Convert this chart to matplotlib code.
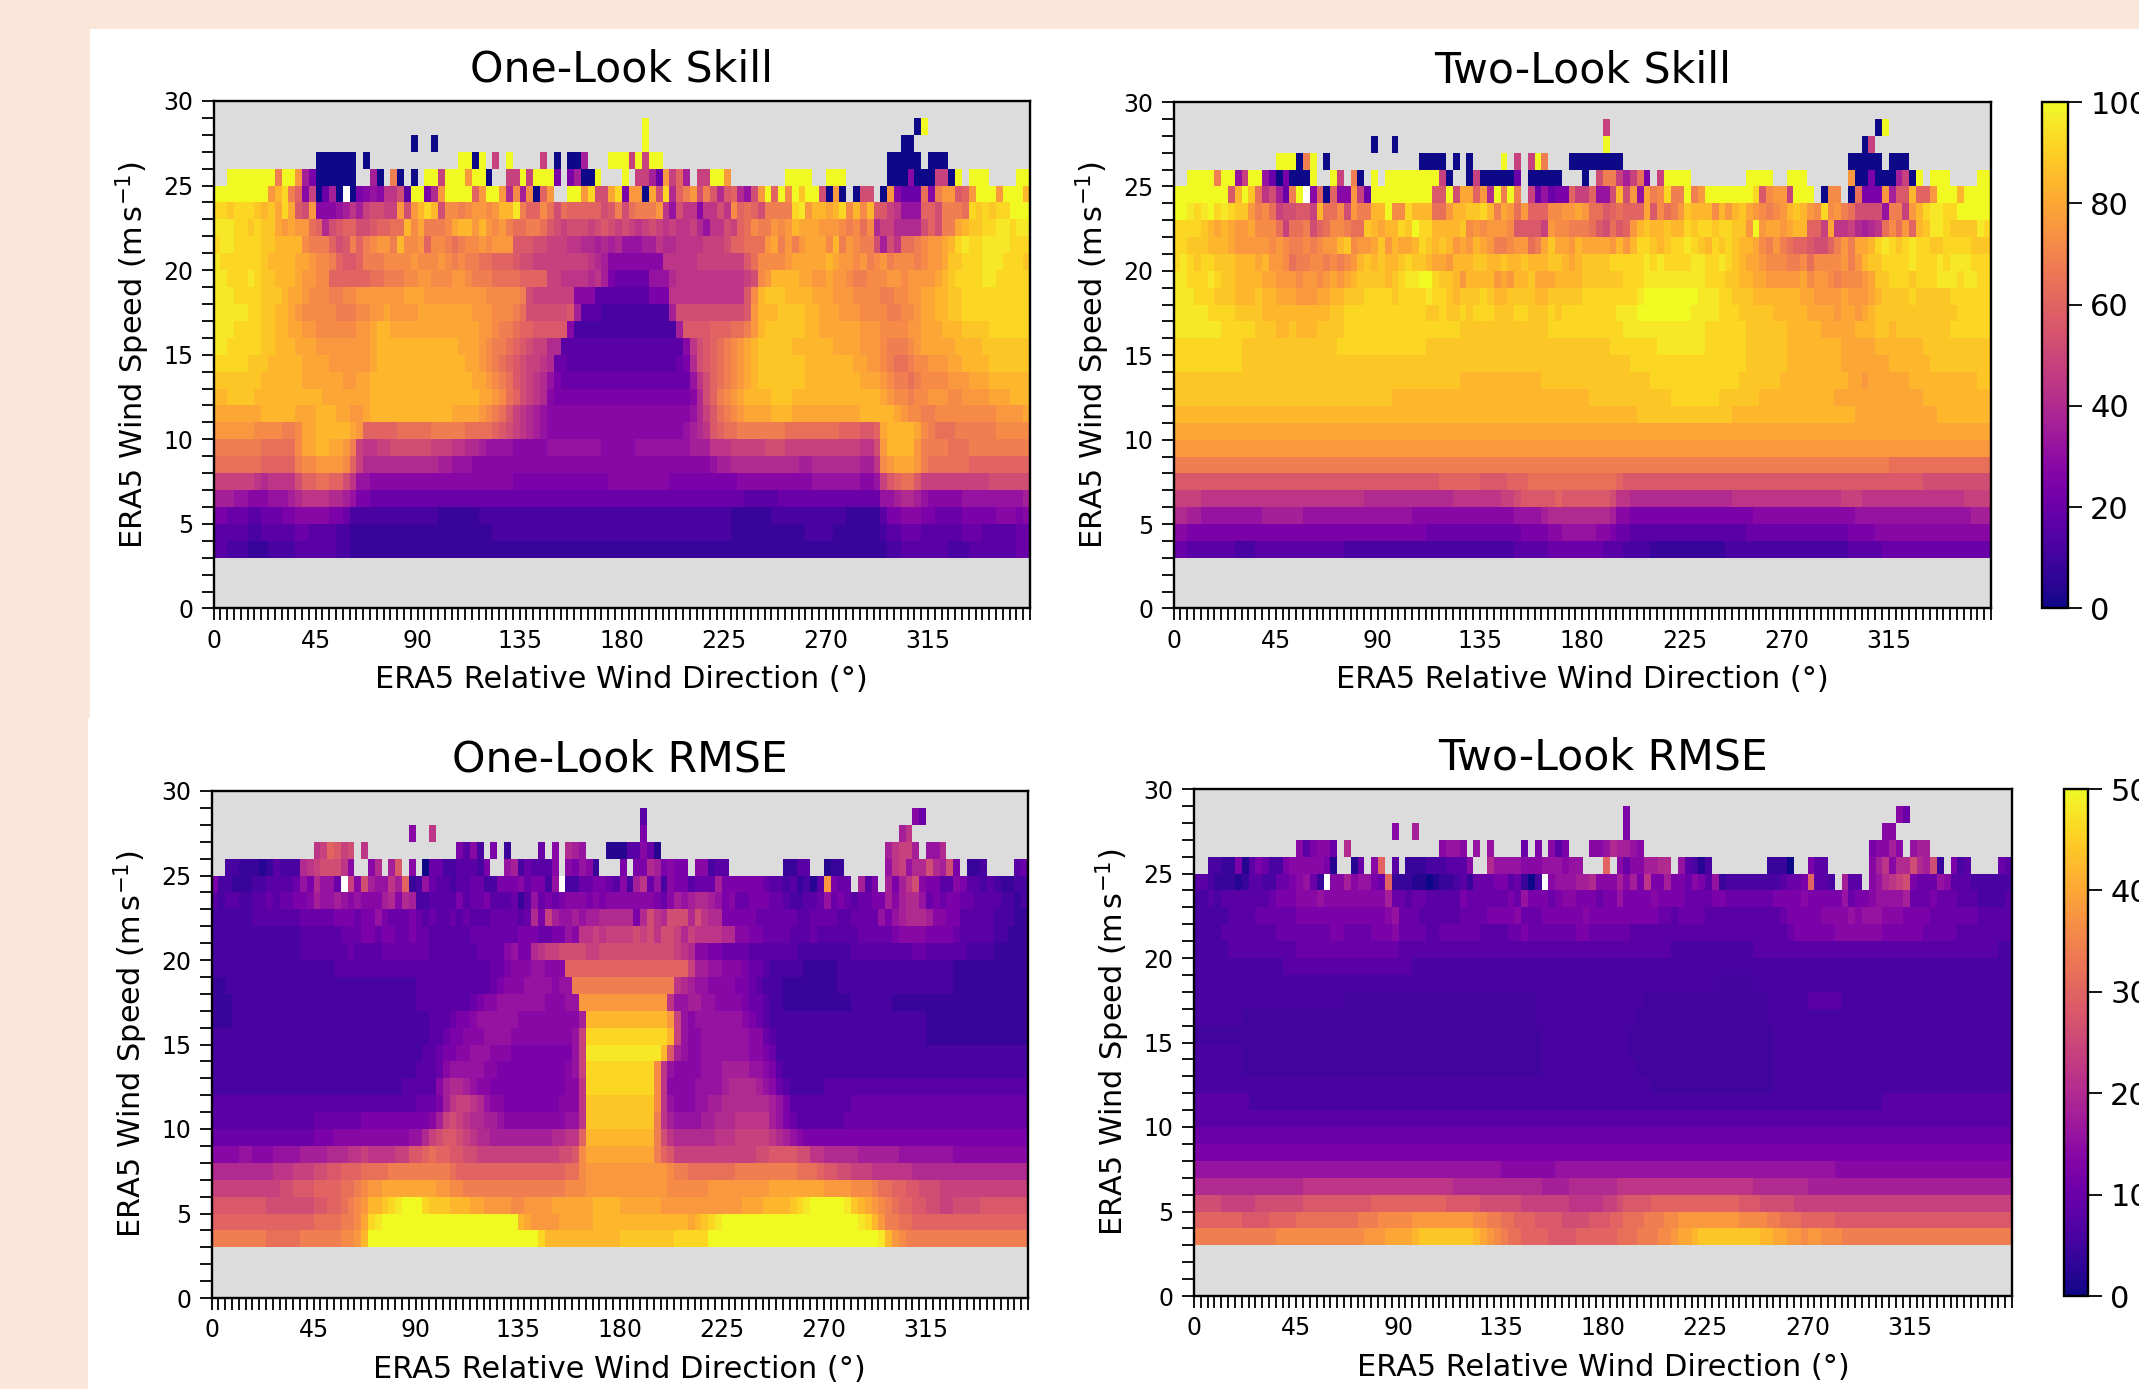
import matplotlib
matplotlib.use("Agg")
import matplotlib.pyplot as plt
from matplotlib.patches import Rectangle
import numpy as np

# cells, 3 deg x 1 m/s bins, rows from 28-29 m/s down to 3-4 m/s
# one letter per cell, A = 0 ... Z = top of colour scale, lower case = half a step up,
# . = no data, _ = white cell. groups of 15 cells = 45 deg
SKILL_ONE = [
"............... ............... ............... ............... ...Z........... ............... .............AZ ...............",
"............... ..............A ..A............ ............... ...Z........... ............... ...........AA.. ...............",
"............... AAAAAA.A....... ......ZZAZ.M.Z. ...M.A.AAJ...ZZ ZMZMZZ......... ............... .........AAAAA. AAA............",
"..ZZZZZZZRZZTJG AAAAAA..JA.RA.A .ZZMZZZTZZA..MM ZMZZZG.GJAAZ... Z.MMJFTMPJ.MMZZ T........ZZZZ.. ZZZ......AAAHAA AMMAZ.ZZZ....ZZ",
"ZZZZZZZZTVXRPHM AFJA_AGHIHLLNEZ ZGKTZZZZPTZZTKS JSAPT..ZZTXNNUX GTTAUNXKPRTNROK OPKINTZPZSZWZZN ATA.ANN.ATHFFFQ HRTTOPTZZZTZZZV",
"XXWXXXWVWUXUONT HHHIJLJMNNMMTNT VXVNSSRSTTSTVVY RPPSQNQPPPPPNOR NQRRRTLINLLHLLN LSPQPNRRRRXYTVV UVXSVSVOOMLIIIP PNRRRQXWXWXXZZZ",
"YYYXXWXWWUTUTTQ PKNOPPNNOPPQQVS URRRSUVVTVTSTRQ QRRQONMNNNMNONM NMLMNMLMLLMKILL NMPQSRRTSTVUUUT TTSRSQSKMMKKKKN PNRRUVWWXXYYXYY",
"XYYXXXXWWVVVVSR RRPNORPRSTTRVSS TPSSRQRSSTSTTTO OONNMMMLLKKJKJK IIIJJLKKLLLLMMM NPPQQQTURTRTUUU SVRTSRRNJNLQQRS TTUVXYXXYYYYXXX",
"YXXXXXXWVVVVUUT SSRPOOPRRRSSSST SSSTSRSRRQQPPPO NNMMMMMMMMLKJHH HHHHHHLLLLLMMMM MMMOQSSSSTUUUUU VUTTSTRSTRSSSRS TTUWWXXXYYYXXXW",
"YYXXXYXWWVVVUTT SSPPPPPPQQRRRSS TTSSSTTSRRRQQQQ PPPPMMLLLLKLJGF FFFFIIIKLLLLLLL LLLMNSTVVVVUUTT UTTSRRSSSTTSTTT TUVWXXXXYYXXXXX",
"YYYXXXXWWWVUUTS SSRRSSTTTTTTTUU UTTTTTTTTTSSSSS RNMMMMMMHHHEEEE EEEEGGGLLLLLLLL LLLOSVWWWVVVVUU UTTTSSSSRRSSTTU UVVWWXXXXXXXXXX",
"YYYYYXXWWVVUTSS SSSRRRSSTTUTTTT UUUUUUUUTTTSSSR QNNNNNNOJEEEDDD DDDDDDDJNNNNNNN NNNOTVVVWWWWVVU UUTTTSSSSRRSSTU UVVWWXXXXXXXXXX",
"YYYXXXXWWVVUUTT SSSSSSTTUVVUUUU UUUUUUUUUTTSRRQ PPOOOOOHDDDDDDD DDDDDDDDJOOOOPP PQQRTVWWWWWWVVU UUUUUTTTSSSSTTU UUVVVWWWWXXXXXX",
"YYXXXXXWWVVVUUU TTTTTTTTUVVVVVV VVVVVVUUUTSRRQP ONMMKKEEEEEEEEE EEEEEEEEEHLNOPQ RSTUVWWWWWVVVVV VUUUUTTTSRRRSTU UUUUVVVVWWWWWWW",
"XXXXXWWWVVVVVUU UUTTTTTTUVVVVVV VVVVVVVUUTSRQPO NMMLKFFEEEEEEEE EEEEEEEEFGKNOPQ RSTUVWWWWWWWVVV VVVVUUTTSRQQRSS TTTUUVVVVWWWWWW",
"WWWWWWWVVVVVVUU UUUUTTUUVVVVVVV VVVVVVVVUUTSRQO NMLKIGFFFFFFFFF FFFFFFFFFFILNPQ RSTUVWWWWWWWVVV VVVVVUUUTSRRQRS SSSTTTUUUVVVVVV",
"VVWWWWVVVVVVVVV VUUUUUUUVVVVVVV VVVVVVVVVUUTSQP NMLKHGGGGGGGGGG GGGGGGGGGGHKNPR STUVVVVWWWVVVVV VVVVVVVVUTSSRSS TTTSSTTTTUUUVVV",
"UUUUUUUVVVVVUUU VVVUUTTUVVVVVVV VVVVVUUUUTSRQOM LKJIHHHHHHHHHHH HHHHHHHHHHIKMOQ RSTUUUUVVVUUUUU UUUUUVVVVVUTSSR RSSSSSSSSSTTTTU",
"TTTTTTSSSSRRSUU VVVVVUTPPPPPQQQ QQRRRRRQQQQPONM LKJIHHHHHHHHHHH HHHHHHHHHIJKLOP QQRRRRRRRQQQQQQ QQPPPOOPUVVVVUS RQQQRRRRRRSSSSS",
"RRRRRRRQQQQQSUU VVUUTRMLLMMNNNN NNMMMLLKKJIIIIH HHHHIIIIIIIIHHH HHIIIIIIIIJJJLL LMMMMMNNNMMMMMM MMMMMLLNTVVVVTR RRRQQQRRRRRRRRR",
"QQQQQQQPPPPPRSS TTTTSPMKKKKKKKK KKKJJIIIHHHHHHH HHHHHHHHHHHHHHH HHHHHHHHHHHHHIJ JKKKKKKKKKKJJKK KKKKKJJLSTUUUTR QQQQQQPPPPPPPPP",
"MMMMMMLKLLLLNPP QQPPNLIIHHHHHHH HHHHHHHHHHHHHHG GGGGGGGGGGGGGHH HHHHHHHGGGGGGGG GGHHHHHHHHHHHII IIIIIHHIMOPQQOM MMMMMMMMMNNNNNN",
"JJJIIHHHIIIJKLL LLKKJIGGFFFFFFF FFFFFFFFFFFFFFF FFFFFFFFFFFFFFF FFFFFFFFFFFFFFF FFFEEEEEFFFFFFF FFFFFFFFIIJKKJI HHHHHIIIIIIIIIJ",
"GGFFFEEFFFGGHHH HHGGFDDDDDDDDDD DDDCCCCCCDDDDDD DDDDDDDDDDDDDDD DDDDDDDDDDDDDDD DCCCCCCDDDDDDDD DDDCCCCCEGGHHHG GFFFFGGGGGHHHGH",
"EEEEEDDEEEEEFFE EEEDDCCCCCCCCCC CCCCCCCCCCCDDDD DDDDDDDDDDDDDDD DDDDDDDDDDDDDDD DCCCCCCCCCCCDDD DCCCCCCCDEEFFFE EEEEEFFFEEEEEFF",
"EEDDDCCCDDDDEEE EEEDDCCCCCCCCCC CCCCCCCCCCCCCCC CCCCCCCCCCCCCCC CCCCCCCCCCCCCCC CCCCCCCCCCCCCCC CCCCCCCCCDDEEEE EEEDDDEEEEEEEFF",
]

SKILL_TWO = [
"............... ............... ............... ............... ...M........... ............... .............AZ ...............",
"............... ..............A ..A............ ............... ...Z........... ............... ...........AM.. ...............",
"............... ZZZARZ.A....... ......AAAA.A.A. ...Z.M.MZR...AA AAAAAA......... ............... .........AAAAA. AAA............",
"..ZZZZRZZIMZZIF AGAAAZ..ZM.RA.Z .ZZZZZZZZMA..AM AAAAAF.AAAAA... A.NRRMJMQG.MZZZ Z........ZZZZ.. ZZZ......TAAGAA AJMAZ.ZZZ....ZZ",
"ZZZZZZZZOVZWQLN JFRZ_HPAPHHTMFZ ZZZZZZZZOOZNUUP TKZRZR.MFIFGGPM MPIINVNTIURSXRR ZRTZZZZZZZXOSTT MZZZ.ASS.AQGGGT JOOVPPTZZZVZZZZ",
"ZZYXYZXYXWWTRSQ MNNOOMVQQSNTRRV VZSSXVVVQQTVVWW XVRUTQTPPPSSTTU TQQOPQPPPUOSQRT WVVVSVTVWUTSRST VWVTSXSTRQNNNNI RRMTVXYYXXZZZZZ",
"XXXXWVUVUTTUSSS QMQQRNPQSSRQQWV UVVXWZXXVVVVWST STTTSOOOOMTSSRR RQONQOPTVWVVWVV XWXXWXXWWTZTUUT UVVPPMULLMKJKLQ SQTPVWYYXWWWWYX",
"XXWWWVVVUTTTTTS TSRRSRSTTVWSTTU WTVUUVXWVWVTUTV UTRRSTTQRUWUUTV UUUUTVTVXXWVWXX YXWVXWXWVVUSRTR QPPONNPRTRUUVXY XWXYXXWWXXXXWWW",
"XYXWXXWWWVVVUVT TSQRRSSRSRSTVWV WVVWXWWVUUTVVVW WVVWVVWVVVWWVUV WWWWXXXXXYXYXXX XYYXXYXWVUUTSSS RRSQSSSSTRTVWWX XXXYXXXYXYYYXXX",
"YYXXXYXWWVVVVUU TTTSTTSTUTUVWWW WVWXYYZZXWWVTVV VVTUTVVWUUUVVVV WWWWWWXXXYYYYYY YYYXXXWWVVUUTTT TTUSTTSRSSSTUWW XXXWXXXYYYXYYXX",
"YYYXXXWWWVVVWVV UUUTTTUUVVWWWXX XXWXXXXYXXWVWWW XWVVWWWWVVWWWWW XXXXXXXXYZZZZZZ ZZYYYXXWWWVVVVV VVUUTTTTUTTTUVW WWWXWWWWWXXXXXX",
"YYYYYXXXXWWWWVV VVVVVVVVWWXXXXX XXXXXXXWWXWWXWX XXWWWXXWWWXWXXX XXXXXYYYZZZZZZZ ZYYYYXXXWWWWWVV VVVUUUUTUUTUVWW WWWWWWWWWWXXXXX",
"YYYYYYYXXXXXWWW VVWVVVWWWWXXXXX XXXXXXXXXXXXWWW WWWWWWWWWWXXXXX XXXXXXYYYYYYYYY YYYXXXXXXWWWWWW VVVVVUUUUUVVVWW VWWWWWWWWXXXXXX",
"XXXXXXXXXXWWWWW WWWWWWWWWXXXXXX XXXXXXXWWWWWWWW WWWWWWWWWWWWWWW WWWWXXXXXXXYYYY YYYXXXXXXWWWWWW VVVVVVVVUUUUUVV VVVVVWWWWWWWWWW",
"XXXXXXXXXXWWWWW WWWWWWWWWWWWWWW WWWWWWWWWWWWWWW WWWWWWWWWWWWWWW WWWWWWWXXXXXXXX XXXXXXXXXWWWWWW VVVVVVVVUUUUUUU VVVVVVWWWWWWWWW",
"WWWWWWWWWWWWWWW WWWWWWWWWWWWWWW WWWWWWWWWWWWVVV VVVVVVVVVWWWWWW WWWWWWWWWWXXXXX XXXXXXXXWWWWWWV VVVVVVVVVUUTUUU UUUVVVVVVVVVVWW",
"WWWWWWWWWWWWWWW WWWWWWWWWWWWWWW WWVVVVVVVVVVVVV VVVVVVVVVVVVVVV VWWWWWWWWWWWWXX XXXXXWWWWWWVVVV VVVVVVVUUUUUUUU UUUUUVVVVVVVVVV",
"VVVVVVVVVVVVVVV VVVVVVVVVVVVVVV VVVVVVVVVVVVVVV VVVVVVVVVVVVVVV VVVVVVVVWWWWWWW WWWWWWWVVVVVVVV VVVVVVVVVVUUUUU UUUUUUUVVVVVVVV",
"UUUUUUUUUUUUUUU UUUUUUUUUUUUUUU UUUUUUUUUUUUUUU UUUUUUUUUUUUUUU UUUUUUUUUUUUUUU UUUUUUUUUUUUUUU UUUUUUUUUUUUUUU UUUUUUUUUUUUUUU",
"TTTTTTTTTTTTTTT TTTTTTTTTTTTTTT TTTTTTTTTTTTTTT TTTTTTTTTTTTTTT TTTTTTTTTTTTTTT TTTTTTTTTTTTTTT TTTTTTTTTTTTTTT TTTTTTTTTTTTTTT",
"RRRRRRRRRRRRRRR RRRRRRRRRRRRRRR RRRRRRRRRRRRRRR RRRRRRRRRRRRRRR RRRRRRRRRRRRRRR RRRRRRRRRRRRRRR RRRRRRRRRRRRRRR QQQQQQQQQQQQQQQ",
"OOOOOOOOOOOOOOO OOOOOOOOOOOOOOO OOOOOOOOOPPPPPP OOOOPPPQQQQQQQQ QQQQQPOOOOOOOOO OOOOOOOOOOOOOOO OOOOOOOOOOOOOOO OOOOONNNNNNNNNN",
"MMMMLLLLLLLLLLL LLLLLLLLLLLLLKK KKKKKKKKKKKLLLL LLLMMNOOOOOPOOO OOOONLLKKKKKKKK KKKKKKKLLLLLLLL LLLLLLLLMMMLLLL LLLLLLLLLLLMMMM",
"KKJJIIIIIIIIIJJ JJJJIIIIIIIIIII IIIIIHHHHHHHHHH HHHHHIIIIJKKKKK KKKKJHHGGGGGGGG GGGGGGGGGGHHHHH HHHHHHHHHHIIIII IIIIIIIIIIIIJJJ",
"HHGGGGGGGGGGGGG GGGGGGGGGGGGGGG GGGGGGGFFFFFFFF FFFFFFGGGGHHIII IIHHGFFEEEEEEEE EEEEEEEEEFFFFFF FFFFFFFFFGGGGHH HHHHHHHHHHHHHHH",
"FFEEEEEEEDDDEEE EEEEEEEEEEDDDDD DDDDDDDDDDDDDDD DDDDDEEEEEFFFFF FFFEEEDDDDCCCCC CCCCCCDDDDDDDDD DDDDDDDDDEEEEEF FFFFFFFFFFFFFFF",
]

RMSE_ONE = [
"............... ............... ............... ............... ...E........... ............... .............HF ...............",
"............... ..............H ..L............ ............... ...G........... ............... ...........JL.. ...............",
"............... LMPOMN.L....... ......GEHD.G.C. ...F.H.KJI...BB BEEHFB......... ............... .........JLMMJ. IIK............",
"..DDCCCBCEDDDKL MNNNLH..HK.JO.H .AFFDDEEEDG..IJ DFEEEH.HGIHC... G.GGKJGHGG.HHDE E........CCEE.. BCC......ILMIKK NKJNG.CCD....EF",
"GDDCCCDDEEEEFIG KIIF_MHNJIILJPC DIFEEDEEFFDDGGG HFGGDI_DDFFGGFE HDJLFIDHGGEFFFJ GGGGGGFEEDECDBE TGFF.JEG.JGJLNH GGEEHGEEDEDCCDD",
"EDEEDDEEFEFFGGH JIIJIHIHHHJKHKJ DDEEEEGEFFGEEEF CEIFGFGHHHGHGHH HHHHHGFHJIJKKJI GHFFGGGFFEDDEEF IFGFEFFGGJHJKKI FGFGGFFEEEEDDCD",
"DDDDDDEEEEEEEFF FFFGGGFGGIGFFFG FEFEEFEFEEEFFFF EFKGMJIIJIJJKKK KKGKNLKNNNKNLKK GGGGGFFFFFFEEFF FFEEFFFFIGIJKKK JHHGGEEEEEDDDCC",
"DDDDDDDDDDDDDEE EEEEFFFGGFGGFFG FFEEEEEEFFFFFFF GGGFFGGIHLLMLMM MMNMNLNNMKMLLLL KKHHGGFFFFEEEFE EEEEEFFFFFGHHHH GGGGFEEEEEDDCCC",
"DDDDDDDDDDDDDEE EEEEEFEEEEFFFFF FFEEEEEEEFFFFHI GGKLMMNNNNMMNNN NNNNNNNNMLKHHGG FFFFEEEEEEEDDDD DDDDEEEEEEEEEFF EEEEEEDDDDCCCCC",
"DDDDDDDDDDDDDDD DDDEEEEEEEEEEEE EEEEEEEEEEEFFGH HHIIHHHPPPPPPPP PPPPPPPPPPMJJII HHHGFFEDDDDDCCC CCDDDDDDDDDDDDD DDDDCCCCCCCCCCC",
"CCDDDDDDDDDDDDD DDDDDDDDDDDDDDD EEEEEEEEEEEFGHH HIIIIHIIRRRRRRR RRRRRRRRLKJIIHH HHGGFEDDDCCCCCC CCDDDDDDDDDDDDD DDDDCCCCCCCCCCC",
"CCCDDDDDDDDDDDD DDDDDDDDDDDDDDD EEEEEEEEFGHHIII IIIIHHHIITTTTTT TTTTTTTLIIJJIIH HHHGFFEDDCCCCCC CCCCDDDDDDCCCCC CCCCCCCCCCCCCCC",
"CCCDDDDDDDDDDDD DDDDDDDDDDDDDDD DDEEEFGGHIIIIII HHHHHHHHHJVVVVV VVVVVVVTMIHIIII IIIHGFEDDDDDDDD DDDDDDDDDDDDDDD CCCCCCCCCCCCCCC",
"DDDDDDDDDDDDDDD DDDDDDDDDDDDDDD DDEEFGGHHHIIIIH HHHHHHHHIMXXXXX XXXXXXXVMIHHIII IIIIHHFEDDDDDDD DDDDDDDDDDDDDDD CCCCCCCCCCCCCCC",
"DDDDDDDDDDDDDDD DDDDDDDDDDDDDDD DEEFGGHHIIIHHHG GGGGGGGGIMYYYYY YYYYYYVOJIHHIII IIIIHHGFDDDDDDD DDDDDDDDDDDDDDD DDDDDDDDDDDDDDD",
"DDDDDDDDDDDDDDD DDDDDDDDDDDDDDD EEEFHIIIIIHHGGG GGGGGGGHIMXXXXX XXXXXSLIHHHHIII JJJJIIHGEDDDDDD DDDDDDDDDDDDDDD DDDDDDDDDDDDDDD",
"DDDDDDDDDDDDDDD DDDDDDDDDDDDDEE EEEHJKKJIHHGGGG GGGGGGGHHLXXXXX XXXXXSLHHHHIIII JKKKKJIHFEDDDDD EEEEEEEEEEEEEEE EEEEEEEEEEEEEEE",
"EEEEEEEEEEEEEEE EEEEEEEEEEEEEEE FFFGJLMMLKIHHGG GGGGGGHHHLWWWWW WWWWWSLIHHHIIJJ KKKKKKKJIGEEEEE EEEEFFFFFFFFFFF FFFFFFFFFFFFFFF",
"EEEEEEEEEEEEEEE FFFFFFFGGGGGGGG GGHJMNMLKKJJIHH HHHHHHHIILWWWWW WWWWWRLJIIIIJJK KKLLLLLJIGFEEEE EEEFFFFFFFFFFFF FFFFFFFFFFFFFFF",
"FFFFFFFFFFFFFFF GGGHHHHHHHHHHHI IKMNOONMLKKJJJJ JJJJJKKLLPVVVVV VVVVVRNLKKKKKKL LLMMMMMLKJIHGGG GGGGGGGGGGGGGGG GGGGGGGGGGGGGGG",
"HHHHIIHHHIIIIJJ JJKKKLLMLLLLMMO OPQPPOONNMMMMMM MMMMMMNNOSUUUUU UUUUURPOMMMMMMM MMMMMNNOOOONNLL KKKKKJJJJJJIIII IIIIHHHHHHHHHHH",
"KKKKKKKKKLLLMMM NNOOPPPQQQQRRRR RRRRRQPPPPPPPPP PPPPPPPQQSTTTTT TTTTTTTSRRQQQQQ QQRRRRRRRRRQQQP OONNMMMLLLLLLKK KKKKKKKKKKKKKKK",
"MMMMMMMMMMNNOOO PPPPQQRSTTUUUUU UUUTTSSRRRRRRRR RRRRRRRSSSTTTTT TTTTTTTSSSSSSTT TTTTTTTUUUUUUUU TTTTSSSRQQPPOON NNMMMMMMMMMMMMM",
"OOOOOOOONNNNNNN OOPPQRSTVVWXYZZ ZXWWWVVVUUTTTTS STTTTUUUUUUVVVV UUUUUUTTTTTTTTT TTTUUUVVVVWXYZZ ZZZYWVUTSRQPPOO NNMMNNNNOOOOOOO",
"PPPPPPPPPPPPPPP QQQQRRSUXYZZZZZ ZZZZZZZZZZZZZZZ VUTTTTUUUUUVVVV VVVVVVVVVVUVWXY ZZZZZZZZZZZZZZZ ZZZZZYXVTRRQQPP PPPPPPPPPPPPPPP",
"RRRRRRRRQQQQQRR RRRRSSTVZZZZZZZ ZZZZZZZZZZZZZZZ ZZZXVVVVVVVVVVV WWWWWWWWXXXXXZZ ZZZZZZZZZZZZZZZ ZZZZZZZZYVTSRRR RRRRRRRRRRRRRRR",
]

RMSE_TWO = [
"............... ............... ............... ............... ...G........... ............... .............HF ...............",
"............... ..............H ..J............ ............... ...G........... ............... ...........HH.. ...............",
"............... HEGHHF.K....... ......HIIH.I.I. ...F.G.HEG...HH IKJJIH......... ............... .........GHHJH. IJJ............",
"..DDCCGBEGFDDGH HHHHGB..BF.HP.E .CCCDDDEEEH..KI IIIHHHIIIHII... P.HFHHJJKK.IEDB D........CCCA.. GEE......HJLHKK NKJNC.GDE....FE",
"EEDCCCBCEEDDFFG HIFC_HHJHIIGFPC CCBBABCCDECFFFG GEFCAD_HIIIJJKH HHJHJGLGGJGGFHG EICDDDDDDDDEFFG PEED.JEE.HIKLMN GFFFIHEEEDDDDDD",
"DDEDEEEEEEEFGGG HHHIHHHHHHHHHJF FEFFEEEEEGFFFFF FGFIGGGFGHHGGGF GGIGGGGHGGGGFFF FGGFFFFFFFGGGGH GGGGGIFGGHIIIIJ FFFGFFFEEEDDDDE",
"DDDDDEEEEFFFFFF GGGGGGGGGGGGGHI FFFEEEEEEFFFFGG GGHFFFGGGGGGHGG GGGGGGGGFFEFFFF EEEEEEEEEEEFGGG GGHHHHIHIIIHHHG GGGFFFFFFFEEEEE",
"DDDDEEEEEEEEFFF FFFFFGGFFFFGGGH FFFFEEFFFFFFEEE EFFGFFFFFFFGGFF FFFFEEEEEEEEEEE EEEEEEEEEEEEFGG GGGGHHHHHHHGGGG GGFFFFFEEEEEEEE",
"DDDDDEEEEEEEEEE FFFFFFFFFFFFFFF EEEEEEEEEEEEEEE EEEEEEEEEEEEEEE EEEEEEEEEEDDDDD DDDDDDDEEEEEEEE EEEEEEEEEEEEEEE EEEEEEEEEEEEEDD",
"DDDDDDDDDDDDDEE EEEEEEEEEEEEEEE EEDDDDDDDDDDDDD DDDDDDDDDDDDDDD DDDDDDDDDDDDDDD DDDDDDDDDDDDDDD DDDDDDDDDDDDDDD DDDDDDDDDDDDDDD",
"DDDDDDDDDDDDDDD DDDDDDDDDDDDDDD DDDDDDDDDDDDDDD DDDDDDDDDDDDDDD DDDDDDDDDDDDDDD DDcccccDDDDDDDD DDDDDDDDDDDDDDD DDDDDDDDDDDDDDD",
"DDDDDDDDDDDDDDD DDDDDDDcccccccc ccccccccccccccc cccccDDDDDDDDDD DDDDDDccccccccc cccccccccDDDDDD EEEEEDDDDDDDDDD DDDDDDDDDDDDDDD",
"DDDDDDDcccccccc ccccccccccccccc ccccccccccccccc cccccDDDDDDDDDD DDDDDcccccccccc cccccccccDDDDDD DDDDDDDDDDDDDDD DDDDDDDDDDDDDDD",
"ccccccccccccccc ccccccccccccccc ccccccccccccccc ccccccDDDDDDDDD DDDDccccccccccc ccccccccccDDDDD DDDDDDDDDDDDDDD DDDDDDDDDDDDDDD",
"DDDDDDDcccccccc ccccccccccccccc ccccccccccccccc ccccccDDDDDDDDD DDDDccccccccccc ccccccccccDDDDD DDDDDDDDDDDDDDD DDDDDDDDDDDDDDD",
"DDDDDDDcccccccc ccccccccccccccc ccccccccccccccc ccccccDDDDDDDDD DDDDDcccccccccc ccccccccccDDDDD DDDDDDDDDDDDDDD DDDDDDDDDDDDDDD",
"DDDDDDDDDDDDDDD DDDDDDDDDDDDDDD DDDDDDDDDDDDDDD DDDDDDDDDDDDDDD DDDDDDDcccccccc ccccccccccDDDDD DDDDDDDDDDDDDDD DDDDDDDDDDDDDDD",
"EEEEEEEEDDDDDDD DDDDDDDDDDDDDDD DDDDDDDDDDDDDDD DDDDDDDDDDDDDDD DDDDDDDDDDDDDDD DDDDDDDDDDDDDDD DDDDDDDDDDDEEEE EEEEEEEEEEEEEEE",
"EEEEEEEEEEEEEEE EEEEEEEEEEEEEEE EEEEEEEEEEEEEEE EEEEEEEEEEEEEEE EEEEEEEEEEEEEEE EEEEEEEEEEEEEEE EEEEEEEEEEEEEEE EEEEEEEEEEEEEEE",
"FFFFFFFFFFFFFFF FFFFFFFFFFFFFFF FFFFFFFFFFFFFFF FFFFFFFFFFFFFFF FFFFFFFFFFFFFFF FFFFFFFFFFFFFFF FFFFFFFFFFFFFFF FFFFFFFFFFFFFFF",
"GGGGGGGGGGGGGGG GGGGGGGGGGGGGGG GGGGGGGGGGGGGGG GGGGGGGGGGGGGGG GGGGGGGGGGGGGGG GGGGGGGGGGGGGGG GGGGGGGGGGGGGGG GGGGGGGGGGGGGGG",
"IIIIIIIIIIIIIII IIIIIIIIIIIIIII IIIIIIIIIIIIIII HHHHHHHHIIIIIII IIIIIIIIIIIIIII IIIIIIIIIIIIIII IIIIHHHHHHHHHHH HHHHHHHHHHHHHHH",
"KKKKKKKKKKKKKKK KLLLLLLLLLLLLLL LLLLLLLLKKKKKKK KKKKKKJJJJKKKKK KKLLLLLLLLLLLLL LLLLLLLKKKKKKKK JJJJJJJJJJJJJJJ JJJJJJJJJJJJJJJ",
"NNNNMMMMMNNNNNN NOOOOOOOOOOPPPP PPPPPPPOOOOONNN NNNMMMMMMMLLLLL MMNOOOOPPPPPPPP PPPPPOOONNNNNMM MMMMMMMMMMMMMMM MMMMMMMMMMMMMMM",
"PPPPPPPOOOOPPPP QQQQQQQQQRRRSSS SSTTTTTTTTTSSRR QQPPPOOOONNNNOO OPPQQQRRRSSTTTT TTTTTSSSSRRQQQP PPPPOOOOOOOOOOO OOOOOOOOOOOOOOO",
"RRRRRRRRRRRRSSS SSSSSSSSSSTTTUU UUVWWWWWWWWVUTS RQQPPPPOOOOPPPP PPQQQRRRSSTUUVW WWWWWWWWVVUUTTS TTSSSRRRRRRRRRR RRRRRRRRRRRRRRR",
]

TITLES = ["One-Look Skill", "Two-Look Skill", "One-Look RMSE", "Two-Look RMSE"]
SKILL_TICKS = [0, 20, 40, 60, 80, 100]
RMSE_TICKS = [0, 10, 20, 30, 40, 50]
LETTERS = "ABCDEFGHIJKLMNOPQRSTUVWXYZ"

FIG_W = 2139
FIG_H = 1389


def decode(rows, vmax):
   grid = []
   for row in rows:
      cells = []
      for group in row.split():
         for c in group.ljust(15, group[-1])[:15]:
            if c == ".":
               cells.append(np.nan)
            elif c == "_":
               cells.append(vmax * 2)
            elif c.islower():
               cells.append((LETTERS.index(c.upper()) + 0.5) * vmax / 25)
            else:
               cells.append(LETTERS.index(c) * vmax / 25)
      grid.append(cells)
   # rows are typed top down, the mesh wants them bottom up
   return np.ma.masked_invalid(np.array(grid)[::-1])


def px_axes(fig, left, top, right, bottom):
   return fig.add_axes([left / FIG_W, 1 - bottom / FIG_H, (right - left) / FIG_W, (bottom - top) / FIG_H])


def draw_panel(fig, rows, title, vmax, box):
   ax = px_axes(fig, *box)
   ax.set_facecolor("#dcdcdc")
   cmap = plt.get_cmap("plasma").copy()
   cmap.set_over("white")
   x_edges = np.arange(0, 363, 3)
   y_edges = np.arange(3, 30)
   mesh = ax.pcolormesh(x_edges, y_edges, decode(rows, vmax), cmap=cmap, vmin=0, vmax=vmax)
   ax.set_xlim(0, 360)
   ax.set_ylim(0, 30)
   ax.set_xticks(np.arange(0, 363, 3))
   ax.set_xticklabels([str(v) if v % 45 == 0 and v < 360 else "" for v in np.arange(0, 363, 3)])
   ax.set_yticks(np.arange(0, 31))
   ax.set_yticklabels([str(v) if v % 5 == 0 else "" for v in np.arange(0, 31)])
   ax.tick_params(length=8.6, width=1.3, labelsize=17, pad=6)
   for s in ax.spines.values():
      s.set_linewidth(1.7)
   ax.set_title(title, fontsize=30.7, pad=14)
   ax.set_xlabel("ERA5 Relative Wind Direction (°)", fontsize=21.9, labelpad=9)
   ax.set_ylabel(r"ERA5 Wind Speed ($\mathrm{m\,s^{-1}}$)", fontsize=21.9, labelpad=8)
   return mesh


def draw_colorbar(fig, mesh, ticks, box):
   cax = px_axes(fig, *box)
   cb = fig.colorbar(mesh, cax=cax)
   cb.set_ticks(ticks)
   cb.ax.tick_params(length=10, width=1.3, labelsize=22, pad=6)
   cb.outline.set_linewidth(1.7)


fig = plt.figure(figsize=(FIG_W / 100, FIG_H / 100), dpi=100, facecolor="white")

# peach page showing round the white figure
peach = "#fbe6da"
fig.add_artist(Rectangle((0, 1 - 28.5 / FIG_H), 1, 28.5 / FIG_H, transform=fig.transFigure, color=peach, lw=0))
fig.add_artist(Rectangle((0, 1 - 718 / FIG_H), 90 / FIG_W, 718 / FIG_H, transform=fig.transFigure, color=peach, lw=0))
fig.add_artist(Rectangle((0, 0), 88 / FIG_W, 1 - 718 / FIG_H, transform=fig.transFigure, color=peach, lw=0))

draw_panel(fig, SKILL_ONE, TITLES[0], 100, (213.5, 101, 1030, 608.5))
mesh_skill = draw_panel(fig, SKILL_TWO, TITLES[1], 100, (1173.5, 102, 1991, 608.5))
draw_panel(fig, RMSE_ONE, TITLES[2], 50, (211.5, 791, 1028, 1298))
mesh_rmse = draw_panel(fig, RMSE_TWO, TITLES[3], 50, (1194, 789, 2012, 1296))

draw_colorbar(fig, mesh_skill, SKILL_TICKS, (2042, 102, 2068, 608.5))
draw_colorbar(fig, mesh_rmse, RMSE_TICKS, (2064, 789, 2088, 1296))

fig.savefig("out.png", dpi=100, facecolor="white")
